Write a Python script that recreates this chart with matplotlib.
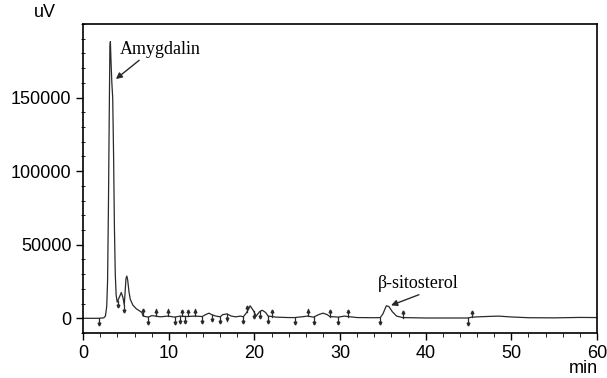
import numpy as np
import matplotlib.pyplot as plt

# Chromatogram trace (time in min, signal in uV)
t = [0, 1.8, 2.4, 2.6, 2.75, 2.85, 2.95, 3.05, 3.12, 3.18, 3.25, 3.35, 3.45,
     3.55, 3.65, 3.75, 3.85, 3.97, 4.2, 4.45, 4.65, 4.8, 4.9, 5.0, 5.1, 5.2,
     5.35, 5.5, 5.8, 6.2, 6.85, 7.0, 7.6, 8.0, 8.5, 9.0, 9.9, 10.7, 11.3, 12.0,
     13.1, 13.9, 14.3, 14.7, 15.0, 15.5, 16.0, 16.3, 16.8, 17.3, 17.8, 18.4,
     18.7, 19.1, 19.5, 19.9, 20.2, 20.6, 20.9, 21.3, 21.6, 22.1, 22.5, 23.0,
     24.0, 24.7, 25.5, 26.2, 26.9, 27.5, 28.0, 28.5, 28.8, 29.8, 30.5, 30.9,
     32.0, 34.0, 34.7, 35.0, 35.4, 35.7, 36.1, 36.6, 37.3, 40.0, 44.9, 45.4,
     47.0, 48.5, 50.0, 52.0, 55.0, 58.0, 60.0]
uv = [0, 0, 300, 1500, 8000, 25000, 75000, 140000, 184000, 188000, 175000,
      160000, 150000, 112000, 62000, 30000, 16000, 11000, 14000, 17500, 14000,
      9000, 18000, 27000, 28700, 26000, 18000, 13000, 9000, 6500, 4000, 1500,
      800, 1800, 1500, 1000, 1500, 800, 1500, 1200, 1500, 1200, 2500, 3500,
      2500, 1500, 1000, 2500, 3000, 1500, 1000, 1500, 1000, 4000, 8500, 5000,
      1500, 4500, 5500, 4000, 1500, 1200, 800, 700, 500, 500, 1000, 1500, 800,
      2500, 3500, 2500, 1200, 800, 1500, 1200, 500, 400, 500, 3000, 8500, 8000,
      4500, 1500, 500, 200, 200, 800, 1200, 1500, 900, 400, 300, 600, 500]

# Integration event marks: position (min) and direction (+1 up, -1 down)
mark_t = [1.8, 4.05, 4.8, 6.97, 7.6, 8.5, 9.9, 10.7, 11.3, 11.6, 11.9, 12.2,
          13.1, 13.9, 15.0, 16.0, 16.8, 18.7, 19.1, 19.9, 20.7, 21.6, 22.1,
          24.7, 26.2, 26.9, 28.8, 29.8, 30.9, 34.7, 37.3, 44.9, 45.4]
mark_dir = [-1, -1, -1, 1, -1, 1, 1, -1, -1, 1, -1, 1, 1, -1, -1, -1, -1, -1,
            1, -1, -1, -1, 1, -1, 1, -1, 1, -1, 1, -1, 1, -1, 1]

plt.rcParams['font.family'] = ['Liberation Sans', 'DejaVu Sans']

fig = plt.figure(figsize=(6.07, 3.78), dpi=100)
ax = fig.add_axes([0.137, 0.119, 0.8465, 0.8175])

ax.plot(t, uv, color='#2a2a2a', lw=0.9)

# event marks
mt = np.array(mark_t)
md = np.array(mark_dir)
base = np.interp(mt, t, uv)
for x, d, b in zip(mt, md, base):
    ax.plot([x, x], [b, b + d * 4500], color='#2a2a2a', lw=0.9)
    ax.plot(x, b + d * 3800, marker='v' if d < 0 else '^', ms=2,
            color='#2a2a2a')

# annotations
ax.annotate('Amygdalin', xy=(3.82, 162600), xytext=(4.3, 183000),
            fontsize=13, family='Liberation Serif', va='center', ha='left',
            arrowprops=dict(arrowstyle='-|>', color='#2a2a2a', lw=1.0,
                            shrinkA=0, shrinkB=0, mutation_scale=9,
                            relpos=(0.28, 0.0)))
ax.annotate('\u03b2-sitosterol', xy=(35.95, 8800), xytext=(34.4, 23700),
            fontsize=13, family='Liberation Serif', va='center', ha='left',
            arrowprops=dict(arrowstyle='-|>', color='#2a2a2a', lw=1.0,
                            shrinkA=0, shrinkB=0, mutation_scale=9,
                            relpos=(0.6, 0.0)))

ax.set_xlim(0, 60)
ax.set_ylim(-10000, 200000)
ax.set_xticks(np.arange(0, 61, 10))
ax.set_xticks(np.arange(0, 61, 2), minor=True)
ax.set_yticks([0, 50000, 100000, 150000])
ax.set_yticks(np.arange(-10000, 200001, 10000), minor=True)
ax.tick_params(axis='both', which='major', labelsize=13, length=5,
               direction='out', width=1.0)
ax.tick_params(axis='y', which='minor', length=3, direction='inout')
ax.tick_params(axis='x', which='minor', length=3, direction='out')
for s in ax.spines.values():
    s.set_linewidth(1.2)

fig.text(0.074, 0.968, 'uV', fontsize=13, ha='center', va='center')
fig.text(0.961, 0.026, 'min', fontsize=13, ha='center', va='center')

plt.savefig('out.png', dpi=100)
plt.close(fig)
